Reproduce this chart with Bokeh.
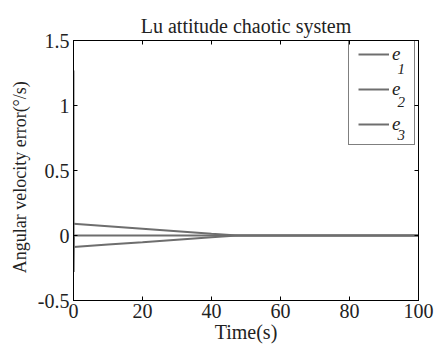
from bokeh.plotting import figure
from bokeh.models import LinearAxis, Legend, LegendItem, Label, FixedTicker, Range1d
from bokeh.embed import file_html
from bokeh.resources import INLINE

# data
t1 = [0, 10, 20, 30, 40, 47.5, 100]
e1 = [0.09, 0.071, 0.052, 0.033, 0.014, 0.0, 0.0]
t2 = [0, 0.05, 0.15, 100]
e2 = [1.27, -0.28, 0.0, 0.0]
t3 = [0, 10, 20, 30, 40, 47.5, 100]
e3 = [-0.088, -0.069, -0.051, -0.032, -0.013, 0.0, 0.0]
x_ticks = [0, 20, 40, 60, 80, 100]
y_ticks = [-0.5, 0, 0.5, 1, 1.5]
y_tick_labels = ["-0.5", "0", "0.5", "1", "1.5"]
labels = ["e", "e", "e"]
subs = ["1", "2", "3"]
title_text = "Lu attitude chaotic system"
x_title = "Time(s)"
y_title = "Angular velocity error(\u00b0/s)"

FONT = "Liberation Serif"
GRAY = "#6e6e6e"
TXT = "#222222"

p = figure(width=434, height=345, output_backend="svg", toolbar_location=None,
           x_range=Range1d(0, 100), y_range=Range1d(-0.5, 1.5),
           min_border_left=73, min_border_right=16, min_border_top=40, min_border_bottom=43)
p.title.text = title_text
p.title.text_font = FONT
p.title.text_font_size = "20px"
p.title.text_font_style = "normal"
p.title.align = "center"
p.title.text_color = TXT
p.title.standoff = 8

p.xgrid.visible = False
p.ygrid.visible = False
p.outline_line_color = "black"
p.outline_line_width = 1
p.background_fill_color = "white"
p.border_fill_color = "white"

r1 = p.line(t1, e1, line_color=GRAY, line_width=2)
r2 = p.line(t2, e2, line_color=GRAY, line_width=2)
r3 = p.line(t3, e3, line_color=GRAY, line_width=2)

def style_axis(ax):
    ax.axis_line_color = "black"
    ax.major_tick_in = 4
    ax.major_tick_out = 0
    ax.minor_tick_line_color = None
    ax.major_tick_line_color = "black"
    ax.major_label_text_font = FONT
    ax.major_label_text_font_size = "20px"
    ax.major_label_text_color = TXT
    ax.axis_label_text_font = FONT
    ax.axis_label_text_font_style = "normal"
    ax.axis_label_text_color = TXT

xa = p.xaxis[0]
xa.ticker = FixedTicker(ticks=x_ticks)
style_axis(xa)
xa.axis_label = x_title
xa.axis_label_text_font_size = "20px"
xa.major_label_standoff = 3
xa.axis_label_standoff = 0

ya = p.yaxis[0]
ya.ticker = FixedTicker(ticks=y_ticks)
ya.major_label_overrides = {v: s for v, s in zip(y_ticks, y_tick_labels)}
style_axis(ya)
ya.axis_label = y_title + "\u00a0" * 3
ya.axis_label_text_font_size = "18px"
ya.major_label_standoff = 4
ya.axis_label_standoff = 5

top = LinearAxis(ticker=FixedTicker(ticks=x_ticks))
style_axis(top)
top.major_label_text_color = None
top.major_label_standoff = 0
p.add_layout(top, "above")
right = LinearAxis(ticker=FixedTicker(ticks=y_ticks))
style_axis(right)
right.major_label_text_color = None
right.major_label_standoff = 0
p.add_layout(right, "right")

legend = Legend(items=[LegendItem(label=labels[0], renderers=[r1]),
                       LegendItem(label=labels[1], renderers=[r2]),
                       LegendItem(label=labels[2], renderers=[r3])],
                location=(275, 155))
legend.label_text_font = FONT
legend.label_text_font_style = "italic"
legend.label_text_font_size = "19px"
legend.label_text_color = TXT
legend.glyph_width = 31
legend.glyph_height = 20
legend.label_height = 20
legend.label_width = 13
legend.spacing = 13
legend.padding = 9
legend.margin = 0
legend.label_standoff = 3
legend.border_line_color = "black"
legend.border_line_width = 1
legend.background_fill_alpha = 0
p.add_layout(legend)

for i, s in enumerate(subs):
    lab = Label(x=324, y=237 - 33 * i, x_units="screen", y_units="screen",
                text=s, text_font=FONT, text_font_style="italic", text_font_size="15px",
                text_color=TXT, text_baseline="top", text_align="left")
    p.add_layout(lab, "center")

open("out.html", "w").write(file_html(p, INLINE))
